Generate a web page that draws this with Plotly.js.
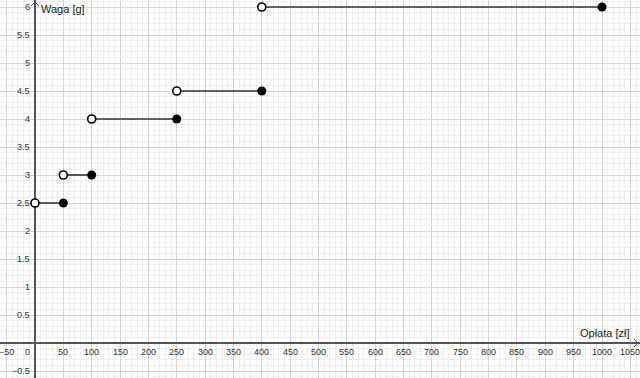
<!DOCTYPE html>
<html><head><meta charset="utf-8">
<script src="https://cdn.plot.ly/plotly-3.0.1.min.js"></script>
<style>html,body{margin:0;padding:0;background:#fff}#chart{width:640px;height:378px}</style>
</head><body><div id="chart"></div>
<script>
// Data
const segStartX = [0, 50, 100, 250, 400];   // open ends
const segEndX   = [50, 100, 250, 400, 1000]; // closed ends
const segY      = [2.5, 3, 4, 4.5, 6];
const xTickVals = [-50,0,50,100,150,200,250,300,350,400,450,500,550,600,650,700,750,800,850,900,950,1000,1050];
const yTickVals = [-0.5,0.5,1,1.5,2,2.5,3,3.5,4,4.5,5,5.5,6];
const xTitle = "Opłata [zł]";
const yTitle = "Waga [g]";

const XR = [-61.7, 1067];
const YR = [-0.625, 6.125];

const lx = [], ly = [];
for (let i = 0; i < segY.length; i++) {
  lx.push(segStartX[i], segEndX[i], null);
  ly.push(segY[i], segY[i], null);
}
const traces = [
  {x: lx, y: ly, mode: 'lines', line: {color: '#333333', width: 1.6}, hoverinfo: 'skip', showlegend: false},
  {x: segEndX, y: segY, mode: 'markers', marker: {color: '#000000', size: 9}, showlegend: false},
  {x: segStartX, y: segY, mode: 'markers', marker: {color: '#ffffff', size: 8, line: {color: '#000000', width: 1.6}}, showlegend: false}
];

const fnt = {family: 'Liberation Sans, Arial, sans-serif', size: 9, color: '#333333'};
const ann = [];
xTickVals.forEach(v => {
  ann.push({x: v === 0 ? -14 : v, y: 0, xref: 'x', yref: 'y', text: String(v).replace('-', '\u2212'),
    showarrow: false, yanchor: 'top', xanchor: 'center', yshift: -2, font: fnt});
});
yTickVals.forEach(v => {
  ann.push({x: 0, y: v, xref: 'x', yref: 'y', text: String(v).replace('-', '\u2212'),
    showarrow: false, xanchor: 'right', yanchor: 'middle', xshift: -3, font: fnt});
});
ann.push({x: 0, y: YR[1], xref: 'x', yref: 'y', text: yTitle, showarrow: false, xanchor: 'left', yanchor: 'top',
  xshift: 4, yshift: -1, font: {family: 'Liberation Sans, Arial, sans-serif', size: 11, color: '#222'}});
ann.push({x: 1050, y: 0, xref: 'x', yref: 'y', text: xTitle, showarrow: false, xanchor: 'right', yanchor: 'bottom',
  xshift: 2, yshift: 2, font: {family: 'Liberation Sans, Arial, sans-serif', size: 11, color: '#222'}});

const sx = (XR[1]-XR[0])/640, sy = (YR[1]-YR[0])/378;
const axc = '#555555';
const shapes = [
  {type: 'line', xref: 'x', yref: 'y', x0: XR[1]-6*sx, y0: 4*sy, x1: XR[1]-2*sx, y1: 0, line: {color: axc, width: 1}},
  {type: 'line', xref: 'x', yref: 'y', x0: XR[1]-6*sx, y0: -4*sy, x1: XR[1]-2*sx, y1: 0, line: {color: axc, width: 1}},
  {type: 'line', xref: 'x', yref: 'y', x0: -4*sx, y0: YR[1]-6*sy, x1: 0, y1: YR[1]-2*sy, line: {color: axc, width: 1}},
  {type: 'line', xref: 'x', yref: 'y', x0: 4*sx, y0: YR[1]-6*sy, x1: 0, y1: YR[1]-2*sy, line: {color: axc, width: 1}}
];

const layout = {
  width: 640, height: 378, margin: {l: 0, r: 0, t: 0, b: 0},
  paper_bgcolor: '#fff', plot_bgcolor: '#fff', showlegend: false,
  xaxis: {range: XR, dtick: 50, tick0: 0, showticklabels: false, ticks: '', gridcolor: '#d4d4d4', gridwidth: 1,
    zeroline: true, zerolinecolor: axc, zerolinewidth: 1.3,
    minor: {dtick: 10, showgrid: true, gridcolor: '#eeeeee', gridwidth: 1}},
  yaxis: {range: YR, dtick: 0.5, tick0: 0, showticklabels: false, ticks: '', gridcolor: '#d4d4d4', gridwidth: 1,
    zeroline: true, zerolinecolor: axc, zerolinewidth: 1.3,
    minor: {dtick: 0.1, showgrid: true, gridcolor: '#eeeeee', gridwidth: 1}},
  annotations: ann, shapes: shapes
};
Plotly.newPlot('chart', traces, layout, {staticPlot: true, displayModeBar: false});
</script></body></html>
